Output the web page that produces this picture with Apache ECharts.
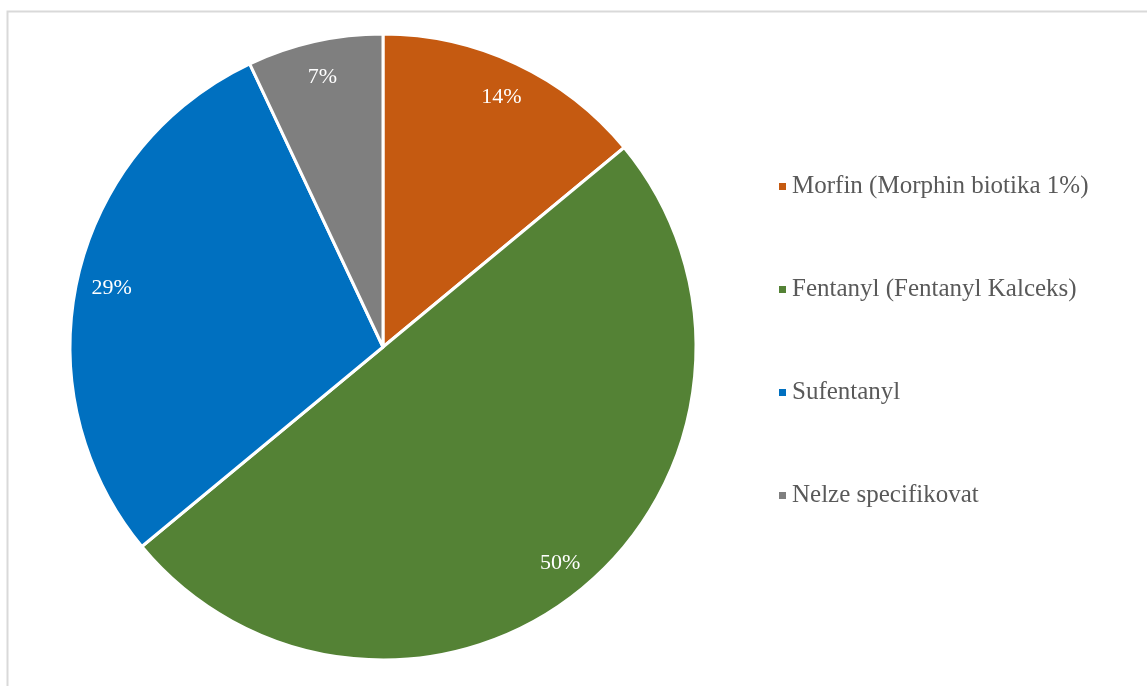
<!DOCTYPE html>
<html>
<head>
<meta charset="utf-8">
<script src="https://cdn.jsdelivr.net/npm/echarts@6/dist/echarts.min.js"></script>
<style>
  html,body{margin:0;padding:0;background:#fff;}
  #main{width:1147px;height:686px;}
</style>
</head>
<body>
<div id="main"></div>
<script>
// data
const categories = ['Morfin (Morphin biotika 1%)', 'Fentanyl (Fentanyl Kalceks)', 'Sufentanyl', 'Nelze specifikovat'];
const values = [14, 50, 29, 7];
const colors = ['#C55A11', '#548235', '#0070C0', '#7F7F7F'];

const pieData = categories.map((name, i) => ({ name: name, value: values[i], itemStyle: { color: colors[i] } }));

const myChart = echarts.init(document.getElementById('main'));
myChart.setOption({
    animation: false,
    graphic: [{
        type: 'rect',
        shape: { x: 7.5, y: 11.5, width: 1200, height: 800 },
        style: { fill: 'none', stroke: '#D9D9D9', lineWidth: 2 },
        silent: true
    }],
    legend: {
        orient: 'vertical',
        left: 772,
        top: 169,
        icon: 'rect',
        itemWidth: 9,
        itemHeight: 9,
        itemGap: 78,
        textStyle: { fontFamily: 'Liberation Serif', fontSize: 25, color: '#595959', lineHeight: 25 },
        data: categories
    },
    series: [
        {
            type: 'pie',
            center: [383, 347],
            radius: [0, 313],
            startAngle: 90,
            clockwise: true,
            label: { show: false },
            labelLine: { show: false },
            itemStyle: { borderColor: '#fff', borderWidth: 3 },
            emphasis: { disabled: true },
            data: pieData
        },
        {
            // transparent ring only used to place labels near the rim
            type: 'pie',
            center: [383, 349],
            radius: [237, 313],
            startAngle: 90,
            clockwise: true,
            silent: true,
            legendHoverLink: false,
            itemStyle: { color: 'transparent', borderWidth: 0 },
            label: {
                show: true,
                position: 'inside',
                formatter: (p) => p.value + '%',
                color: '#fff',
                fontFamily: 'Liberation Serif',
                fontSize: 22
            },
            labelLine: { show: false },
            emphasis: { disabled: true },
            data: categories.map((name, i) => ({ name: name + ' ', value: values[i] }))
        }
    ]
});
</script>
</body>
</html>
